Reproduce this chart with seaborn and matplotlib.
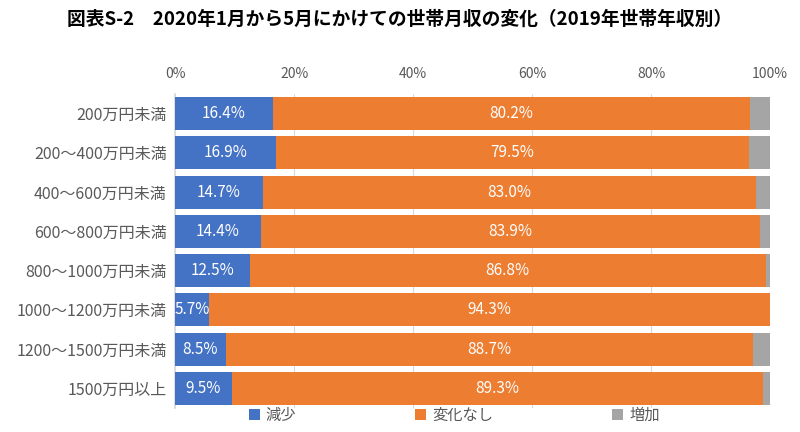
import matplotlib
matplotlib.use("Agg")
import matplotlib.pyplot as plt
import seaborn as sns
import pandas as pd
import numpy as np
from matplotlib.patches import Patch

categories = ["200万円未満", "200～400万円未満", "400～600万円未満", "600～800万円未満",
              "800～1000万円未満", "1000～1200万円未満", "1200～1500万円未満", "1500万円以上"]
decrease = [16.4, 16.9, 14.7, 14.4, 12.5, 5.7, 8.5, 9.5]
nochange = [80.2, 79.5, 83.0, 83.9, 86.8, 94.3, 88.7, 89.3]
increase = [3.4, 3.6, 2.3, 1.7, 0.7, 0.0, 2.8, 1.2]
series_names = ["減少", "変化なし", "増加"]
colors = ["#4472C4", "#ED7D31", "#A5A5A5"]
xticks = [0, 20, 40, 60, 80, 100]
xtick_labels = ["0%", "20%", "40%", "60%", "80%", "100%"]
title = "図表S-2　2020年1月から5月にかけての世帯月収の変化（2019年世帯年収別）"

sns.set_theme(style="white")
plt.rcParams['font.family'] = ['Noto Sans CJK JP', 'DejaVu Sans']

fig = plt.figure(figsize=(8, 4.32), dpi=100)
ax = fig.add_axes([0.219, 0.0556, 0.7435, 0.727])

cum = np.zeros(len(categories))
vals = [decrease, nochange, increase]
for name, v, c in zip(series_names, vals, colors):
    d = pd.DataFrame({"cat": categories, "left": cum.copy(), "val": v})
    ax.barh(d["cat"], d["val"], left=d["left"], color=c, height=0.84, edgecolor="none", zorder=3)
    if name != "増加":
        for i, (l, w) in enumerate(zip(d["left"], d["val"])):
            ax.text(l + w / 2, i, f"{w:.1f}%", ha="center", va="center", color="white",
                    fontsize=11, zorder=4)
    cum += np.array(v)

ax.set_xlim(0, 100)
ax.set_ylim(len(categories) - 0.5, -0.5)
ax.set_xticks(xticks)
ax.set_xticklabels(xtick_labels, color="#595959", fontsize=10)
ax.xaxis.tick_top()
ax.tick_params(axis="x", length=0, pad=9)
ax.tick_params(axis="y", length=0, pad=6, labelsize=11.5, labelcolor="#595959")
ax.grid(axis="x", color="#D9D9D9", linewidth=0.8, zorder=0)
for s in ["top", "right", "bottom"]:
    ax.spines[s].set_visible(False)
ax.spines["left"].set_color("#D9D9D9")
ax.set_xlabel("")
ax.set_ylabel("")

fig.text(0.5, 0.955, title, ha="center", va="center", fontsize=13.5, fontweight="bold", color="#000000")

handles = [Patch(facecolor=c, edgecolor="none") for c in colors]
fig.legend(handles, series_names, loc="center", bbox_to_anchor=(0.568, 0.038), ncol=3,
           frameon=False, fontsize=11, handlelength=0.7, handleheight=0.7,
           columnspacing=7.8, handletextpad=0.4, labelcolor="#595959")

fig.savefig("out.png", dpi=100)
